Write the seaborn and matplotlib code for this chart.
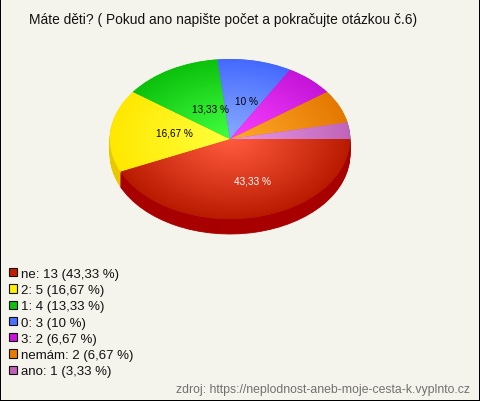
import numpy as np
import seaborn as sns
import matplotlib
matplotlib.use("Agg")
import matplotlib.pyplot as plt
from matplotlib.patches import Patch

names = ["ne", "2", "1", "0", "3", "nemám", "ano"]
counts = [13, 5, 4, 3, 2, 2, 1]
percents = ["43,33 %", "16,67 %", "13,33 %", "10 %", "6,67 %", "6,67 %", "3,33 %"]

title = "Máte děti? ( Pokud ano napište počet a pokračujte otázkou č.6)"
source = "zdroj: https://neplodnost-aneb-moje-cesta-k.vyplnto.cz"

# colours: legend/base, gradient centre, gradient rim, side wall
base = sns.color_palette(["#c41e00", "#ffee00", "#10c010", "#4a70ff", "#cc11dd", "#e87c00", "#c060b8"])
inner = ["#ff5a3c", "#ffff3c", "#40ff40", "#88aaff", "#f840ff", "#ffa828", "#e698e8"]
outer = ["#b81a00", "#ffe800", "#0cc00c", "#4468ff", "#c414d8", "#e47800", "#c064b8"]
side = ["#a80000", "#e8c800", "#0a9a0a", "#3050d0", "#a010b0", "#c06000", "#a05098"]

sns.set_style("white")
plt.rcParams["font.family"] = ["Liberation Sans", "DejaVu Sans"]

W, H = 480, 402
BG = "#f5f4ec"
fig = plt.figure(figsize=(W / 100, H / 100), dpi=100, facecolor=BG, edgecolor="black", linewidth=1.44)

# pie box in pixels: centre (230, 140), rx 120, ry 80
ax = fig.add_axes([100 / W, 1 - 240 / H, 260 / W, 190 / H])

# side wall, one pixel step at a time
for d in range(15, 0, -1):
    wall, _ = ax.pie(counts, colors=side, startangle=0, counterclock=False, radius=1, center=(0, -d / 80))
    for w in wall:
        w.set_edgecolor(w.get_facecolor())
        w.set_linewidth(0.6)

top, _ = ax.pie(counts, colors=base, startangle=0, counterclock=False, radius=1,
                wedgeprops={"linewidth": 0})

xlim = (-130 / 120, 130 / 120)
ylim = (-100 / 80, 90 / 80)

gx, gy = np.meshgrid(np.linspace(-1.02, 1.02, 400), np.linspace(-1.02, 1.02, 400))
dist = np.clip(np.hypot(gx, gy), 0, 1)[..., None]
for w, c1, c2 in zip(top, inner, outer):
    c1 = np.array(matplotlib.colors.to_rgb(c1))
    c2 = np.array(matplotlib.colors.to_rgb(c2))
    img = c1 + (c2 - c1) * dist ** 1.1
    im = ax.imshow(img, extent=(-1.02, 1.02, -1.02, 1.02), origin="lower", zorder=3, aspect="auto")
    im.set_clip_path(w)

ax.set_aspect("auto")
ax.set_xlim(xlim)
ax.set_ylim(ylim)
ax.axis("off")


def px(x, y):
    return x / W, 1 - y / H


fig.text(*px(223, 20), title, ha="center", va="center", fontsize=9.9, color="#111111")

# value labels for the four biggest slices
label_pos = [(253, 182), (174, 134), (210, 110), (247, 102)]
label_col = ["white", "black", "black", "black"]
for txt, pos, col in zip(percents, label_pos, label_col):
    fig.text(*px(*pos), txt, ha="center", va="center", fontsize=7.2, color=col, zorder=5)

handles = [Patch(facecolor=c, edgecolor="#111111", linewidth=0.8) for c in base]
labels = [f"{n}: {c} ({p})" for n, c, p in zip(names, counts, percents)]
fig.legend(handles, labels, loc="upper left", bbox_to_anchor=px(9, 269), frameon=False, fontsize=9.5,
           labelcolor="#111111", handlelength=0.58, handleheight=0.58, handletextpad=0.3,
           labelspacing=0.32, borderpad=0, borderaxespad=0)

fig.text(*px(470, 390), source, ha="right", va="center", fontsize=8.85, color="#707070")

fig.savefig("out.png", dpi=100)
